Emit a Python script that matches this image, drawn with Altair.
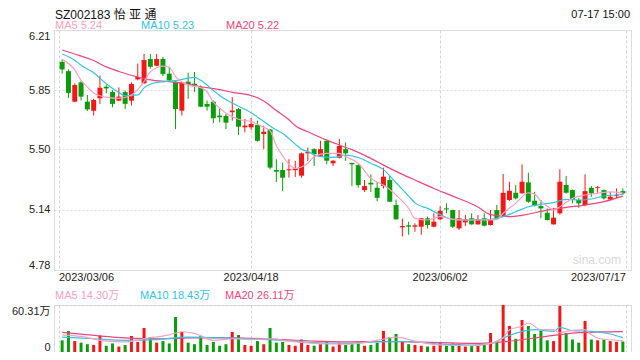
import altair as alt
import pandas as pd

# ---------------- data ----------------
tick_dates = ["2023/03/06", "2023/04/18", "2023/06/02", "2023/07/17"]
tick_pos = [-0.5, 30, 60, 89.5]
price_ticks = [4.78, 5.14, 5.50, 5.85, 6.21]

open_ = [6.02, 5.965, 5.783, 5.898, 5.783, 5.729, 5.803, 5.872, 5.84, 5.789,
         5.84, 5.789, 5.916, 5.892, 6.037, 5.997, 6.037, 5.95, 5.902, 5.729,
         5.902, 5.89, 5.868, 5.769, 5.783, 5.70, 5.698, 5.72, 5.739, 5.63,
         5.63, 5.644, 5.59, 5.618, 5.376, 5.376, 5.374, 5.375, 5.342, 5.475,
         5.50, 5.46, 5.55, 5.416, 5.449, 5.50, 5.418, 5.405, 5.256, 5.30,
         5.27, 5.282, 5.316, 5.167, 5.034, 5.046, 5.038, 5.038, 5.088, 5.038,
         5.082, 5.147, 5.137, 5.028, 5.064, 5.088, 5.052, 5.088, 5.048, 5.137,
         5.098, 5.197, 5.24, 5.237, 5.302, 5.193, 5.161, 5.121, 5.052, 5.118,
         5.286, 5.256, 5.197, 5.167, 5.27, 5.27, 5.256, 5.20, 5.22, 5.25]
high = [6.035, 5.975, 5.892, 5.905, 5.823, 5.80, 5.938, 5.882, 5.852, 5.868,
        5.85, 5.898, 6.01, 6.067, 6.067, 6.067, 6.05, 5.99, 5.905, 5.90,
        5.955, 5.96, 5.88, 5.79, 5.79, 5.74, 5.71, 5.81, 5.745, 5.68,
        5.685, 5.67, 5.64, 5.62, 5.44, 5.42, 5.44, 5.43, 5.48, 5.51,
        5.505, 5.55, 5.555, 5.435, 5.56, 5.54, 5.42, 5.41, 5.316, 5.35,
        5.305, 5.39, 5.34, 5.20, 5.086, 5.068, 5.058, 5.09, 5.098, 5.118,
        5.16, 5.177, 5.14, 5.137, 5.108, 5.118, 5.108, 5.118, 5.137, 5.167,
        5.352, 5.306, 5.286, 5.41, 5.36, 5.246, 5.197, 5.147, 5.15, 5.38,
        5.34, 5.26, 5.21, 5.35, 5.28, 5.28, 5.26, 5.246, 5.266, 5.266]
low = [5.95, 5.805, 5.78, 5.79, 5.727, 5.70, 5.77, 5.833, 5.75, 5.787,
       5.74, 5.76, 5.91, 5.89, 5.98, 5.995, 5.935, 5.905, 5.62, 5.70,
       5.80, 5.84, 5.75, 5.73, 5.655, 5.66, 5.62, 5.67, 5.585, 5.60,
       5.615, 5.545, 5.50, 5.38, 5.305, 5.25, 5.33, 5.335, 5.33, 5.43,
       5.40, 5.455, 5.41, 5.40, 5.445, 5.43, 5.28, 5.27, 5.245, 5.245,
       5.19, 5.265, 5.185, 5.08, 4.98, 4.99, 5.008, 4.99, 5.028, 5.035,
       5.078, 5.118, 5.03, 5.018, 5.042, 5.05, 5.05, 5.04, 5.045, 5.08,
       5.095, 5.19, 5.20, 5.235, 5.18, 5.16, 5.088, 5.075, 5.05, 5.11,
       5.235, 5.177, 5.15, 5.16, 5.216, 5.24, 5.20, 5.195, 5.207, 5.227]
close = [5.975, 5.835, 5.882, 5.813, 5.737, 5.793, 5.866, 5.862, 5.77, 5.813,
         5.77, 5.888, 5.93, 6.031, 5.991, 6.037, 5.948, 5.91, 5.739, 5.898,
         5.888, 5.88, 5.753, 5.753, 5.684, 5.69, 5.658, 5.73, 5.634, 5.64,
         5.65, 5.55, 5.604, 5.39, 5.366, 5.33, 5.38, 5.385, 5.475, 5.483,
         5.47, 5.50, 5.431, 5.431, 5.519, 5.475, 5.41, 5.286, 5.28, 5.29,
         5.21, 5.336, 5.187, 5.082, 5.042, 5.038, 5.046, 5.088, 5.048, 5.068,
         5.133, 5.141, 5.038, 5.088, 5.084, 5.052, 5.084, 5.044, 5.084, 5.084,
         5.24, 5.252, 5.207, 5.306, 5.187, 5.167, 5.147, 5.078, 5.092, 5.306,
         5.24, 5.197, 5.177, 5.25, 5.237, 5.275, 5.207, 5.217, 5.225, 5.237]
# volume in 万 (10k shares)
volume = [15, 26.9, 14, 12, 10, 9, 21.3, 8, 11, 7,
          9, 20.5, 13, 30.8, 19.2, 12, 14, 11, 44.9, 25.7,
          12, 10, 20.9, 9, 13, 8, 10, 25.7, 21.8, 9,
          8, 14, 10, 30.8, 12, 13, 9, 8, 16, 9,
          8, 10, 14, 7, 12, 9, 11, 13, 8, 9,
          12, 27, 19.2, 23.1, 13, 10, 9, 8, 7, 8,
          12, 8, 11, 10, 7, 8, 8, 9, 24.4, 14,
          60.31, 33.4, 17, 41.1, 33.4, 23.1, 27, 15, 14, 59,
          24.4, 16, 12, 39.8, 16, 15, 16, 14, 13, 13.5]

# price moving averages (index, value)
ma5_idx = [0, 2, 3, 4, 5, 7, 9, 11, 13, 14, 15, 16, 17, 18, 20, 22, 23, 24, 25, 26, 28, 30, 32, 33, 34, 35,
           36, 37, 39, 40, 42, 44, 45, 47, 49, 51, 53, 55, 56, 58, 60, 62, 64, 67, 69, 70, 72, 74, 75, 76,
           77, 78, 79, 81, 83, 85, 87, 89]
ma5_val = [6.035, 5.972, 5.91, 5.87, 5.835, 5.81, 5.803, 5.823, 5.902, 5.96, 5.985, 5.995, 5.988, 5.932,
           5.882, 5.866, 5.842, 5.78, 5.745, 5.714, 5.678, 5.664, 5.63, 5.61, 5.52, 5.46,
           5.41, 5.386, 5.416, 5.455, 5.475, 5.475, 5.455, 5.416, 5.326, 5.286, 5.227, 5.147, 5.088,
           5.078, 5.098, 5.082, 5.078, 5.078, 5.08, 5.118, 5.177, 5.24, 5.232, 5.19,
           5.16, 5.137, 5.157, 5.207, 5.227, 5.237, 5.246, 5.24]
ma10_idx = [0, 2, 3, 5, 7, 9, 10, 12, 13, 15, 18, 21, 22, 24, 25, 27, 30, 32, 34, 35, 37, 38, 39, 41,
            43, 45, 47, 49, 51, 53, 55, 56, 58, 60, 62, 64, 68, 70, 72, 74, 76, 78, 80, 82, 84, 86, 89]
ma10_val = [6.067, 6.03, 6.0, 5.955, 5.89, 5.838, 5.818, 5.823, 5.865, 5.898, 5.908, 5.928, 5.91,
            5.85, 5.82, 5.775, 5.717, 5.665, 5.614, 5.594, 5.53, 5.50, 5.485, 5.455,
            5.451, 5.465, 5.45, 5.416, 5.378, 5.30, 5.22, 5.18, 5.147, 5.11, 5.082, 5.078,
            5.082, 5.098, 5.127, 5.157, 5.171, 5.181, 5.201, 5.197, 5.203, 5.221, 5.23]
ma20_idx = [0, 2, 5, 7, 9, 12, 14, 17, 19, 22, 25, 27, 30, 32, 34, 36, 37, 39, 42, 44, 46, 49, 51, 54,
            56, 59, 62, 66, 68, 71, 73, 77, 80, 83, 86, 89]
ma20_val = [6.091, 6.067, 6.028, 5.99, 5.963, 5.93, 5.913, 5.902, 5.893, 5.872, 5.855, 5.838, 5.82,
            5.787, 5.73, 5.675, 5.64, 5.604, 5.554, 5.525, 5.497, 5.445, 5.405, 5.35,
            5.316, 5.266, 5.22, 5.155, 5.11, 5.098, 5.106, 5.137, 5.153, 5.167, 5.187, 5.22]

# volume moving averages (index, value in 万)
vma5_idx = [0, 3, 7, 10, 13, 17, 19, 21, 24, 27, 30, 33, 36, 40, 45, 50, 53, 56, 60, 65, 68, 70, 71,
            73, 74, 76, 78, 79, 80, 83, 84, 85, 89]
vma5_val = [22, 20, 14, 13, 17, 22, 26, 24, 15, 17, 16, 17, 14, 11, 10, 15, 19, 14, 9, 8, 11, 18, 28.6,
            33, 37.2, 28.6, 28.6, 24.4, 26.5, 28.6, 22.2, 18, 14.3]
vma10_idx = [0, 5, 10, 15, 20, 25, 30, 35, 40, 45, 50, 55, 60, 65, 68, 70, 73, 75, 78, 79, 81, 84, 87, 89]
vma10_val = [19, 17, 15, 16, 19, 18, 17, 15, 12, 11, 13, 13.5, 10, 9, 11, 18, 26.5, 28.6, 26.5, 31.7,
             27.4, 26.5, 23.1, 18.43]
vma20_idx = [0, 3, 8, 15, 20, 25, 30, 35, 40, 45, 50, 55, 60, 65, 70, 75, 79, 82, 85, 89]
vma20_val = [25.2, 23, 19.2, 17, 18, 18.5, 17.5, 16, 14, 13, 13.5, 13, 12, 11, 13, 18, 22.2, 24.8,
             25.7, 26.11]

# ---------------- styling ----------------
RED = "#f21818"
GREEN = "#0a9c0a"
C5 = "#f7a1c0"
C10 = "#33c3e3"
C20 = "#ee467b"
FONT = "Liberation Sans, Arial, Noto Sans CJK SC"
W, H, VH, GAP = 577, 240, 47, 35

n = len(close)
df = pd.DataFrame({"i": list(range(n)), "o": open_, "h": high, "l": low, "c": close, "v": volume})
df["dir"] = ["up" if c >= o else "down" for o, c in zip(open_, close)]
dates_df = pd.DataFrame({"p": tick_pos, "d": tick_dates})

xs = alt.Scale(domain=[-0.5, 89.5], nice=False, zero=False)
col = alt.Color("dir:N", scale=alt.Scale(domain=["up", "down"], range=[RED, GREEN]), legend=None)

x_axis = alt.Axis(values=tick_pos, labels=False, grid=True, gridDash=[3, 2], gridColor="#d6d6d6",
                  domain=False, ticks=False, title=None)
y_axis = alt.Axis(values=price_ticks, format=".2f", labelFlush=True, grid=True, gridDash=[2, 2],
                  gridColor="#dcdcdc", domain=False, ticks=False, labelPadding=4, labelFontSize=11,
                  labelColor="#222", title=None, labelFont=FONT)
ys = alt.Scale(domain=[price_ticks[0], price_ticks[-1]], nice=False, zero=False)


def txt(s, x, y, color="#222", size=11, align="left"):
    return alt.Chart(pd.DataFrame({"t": [s]})).mark_text(
        align=align, baseline="middle", fontSize=size, color=color, font=FONT
    ).encode(text="t:N", x=alt.value(x), y=alt.value(y))


def date_labels(rows, align):
    return alt.Chart(dates_df.iloc[rows]).mark_text(
        align=align, baseline="middle", fontSize=11, color="#222", font=FONT
    ).encode(x=alt.X("p:Q"), y=alt.value(H + 8), text="d:N")


def ma_line(idx, vals, color):
    return alt.Chart(pd.DataFrame({"i": idx, "m": vals})).mark_line(
        color=color, strokeWidth=1.2, interpolate="monotone"
    ).encode(x="i:Q", y="m:Q")


wick = alt.Chart(df).mark_rule(strokeWidth=1).encode(
    x=alt.X("i:Q", scale=xs, axis=x_axis),
    y=alt.Y("l:Q", scale=ys, axis=y_axis),
    y2="h:Q",
    color=col,
)
body = alt.Chart(df).mark_bar(width=5).encode(x="i:Q", y="o:Q", y2="c:Q", color=col)

price = alt.layer(
    wick, body,
    ma_line(ma20_idx, ma20_val, C20),
    ma_line(ma10_idx, ma10_val, C10),
    ma_line(ma5_idx, ma5_val, C5),
    date_labels([0], "left"),
    date_labels([1, 2], "center"),
    date_labels([3], "right"),
    txt("SZ002183 怡 亚 通", 1, -15.5, "#111", 12),
    txt("07-17 15:00", W - 1, -15.5, "#111", 11, "right"),
    txt("MA5 5.24", 1, -4, C5),
    txt("MA10 5.23", 87, -4, C10),
    txt("MA20 5.22", 172, -4, C20),
    txt("sina.com", W - 10, 230, "#d9d9d9", 12, "right"),
).properties(width=W, height=H)

vbars = alt.Chart(df).mark_bar(width=3).encode(
    x=alt.X("i:Q", scale=xs, axis=x_axis),
    y=alt.Y("v:Q", scale=alt.Scale(domain=[0, 60.31], nice=False, zero=True),
            axis=alt.Axis(values=[0, 60.31], labelExpr="datum.value == 0 ? '0' : '60.31万'",
                          labelFlush=True, grid=True, gridDash=[2, 2], gridColor="#cfcfcf",
                          domain=False, ticks=False, labelPadding=4, labelFontSize=11,
                          labelColor="#222", title=None, labelFont=FONT)),
    color=col,
)
volume_chart = alt.layer(
    vbars,
    ma_line(vma20_idx, vma20_val, C20),
    ma_line(vma10_idx, vma10_val, C10),
    ma_line(vma5_idx, vma5_val, C5),
    txt("MA5 14.30万", 1, -9, C5),
    txt("MA10 18.43万", 86, -9, C10),
    txt("MA20 26.11万", 171, -9, C20),
).properties(width=W, height=VH)

# with autosize "none" the page size is set by the padding: the block below the origin
# (price + gap + volume) is reserved as bottom padding
chart = alt.vconcat(price, volume_chart, spacing=GAP, bounds="flush").properties(
    autosize=alt.AutoSizeParams(type="none"),
    padding={"left": 46, "top": 22, "right": 1, "bottom": H + GAP + VH},
).configure_view(stroke="#cfcfcf").configure(font=FONT)

chart.save("out.html", embed_options={"renderer": "svg", "actions": False})
